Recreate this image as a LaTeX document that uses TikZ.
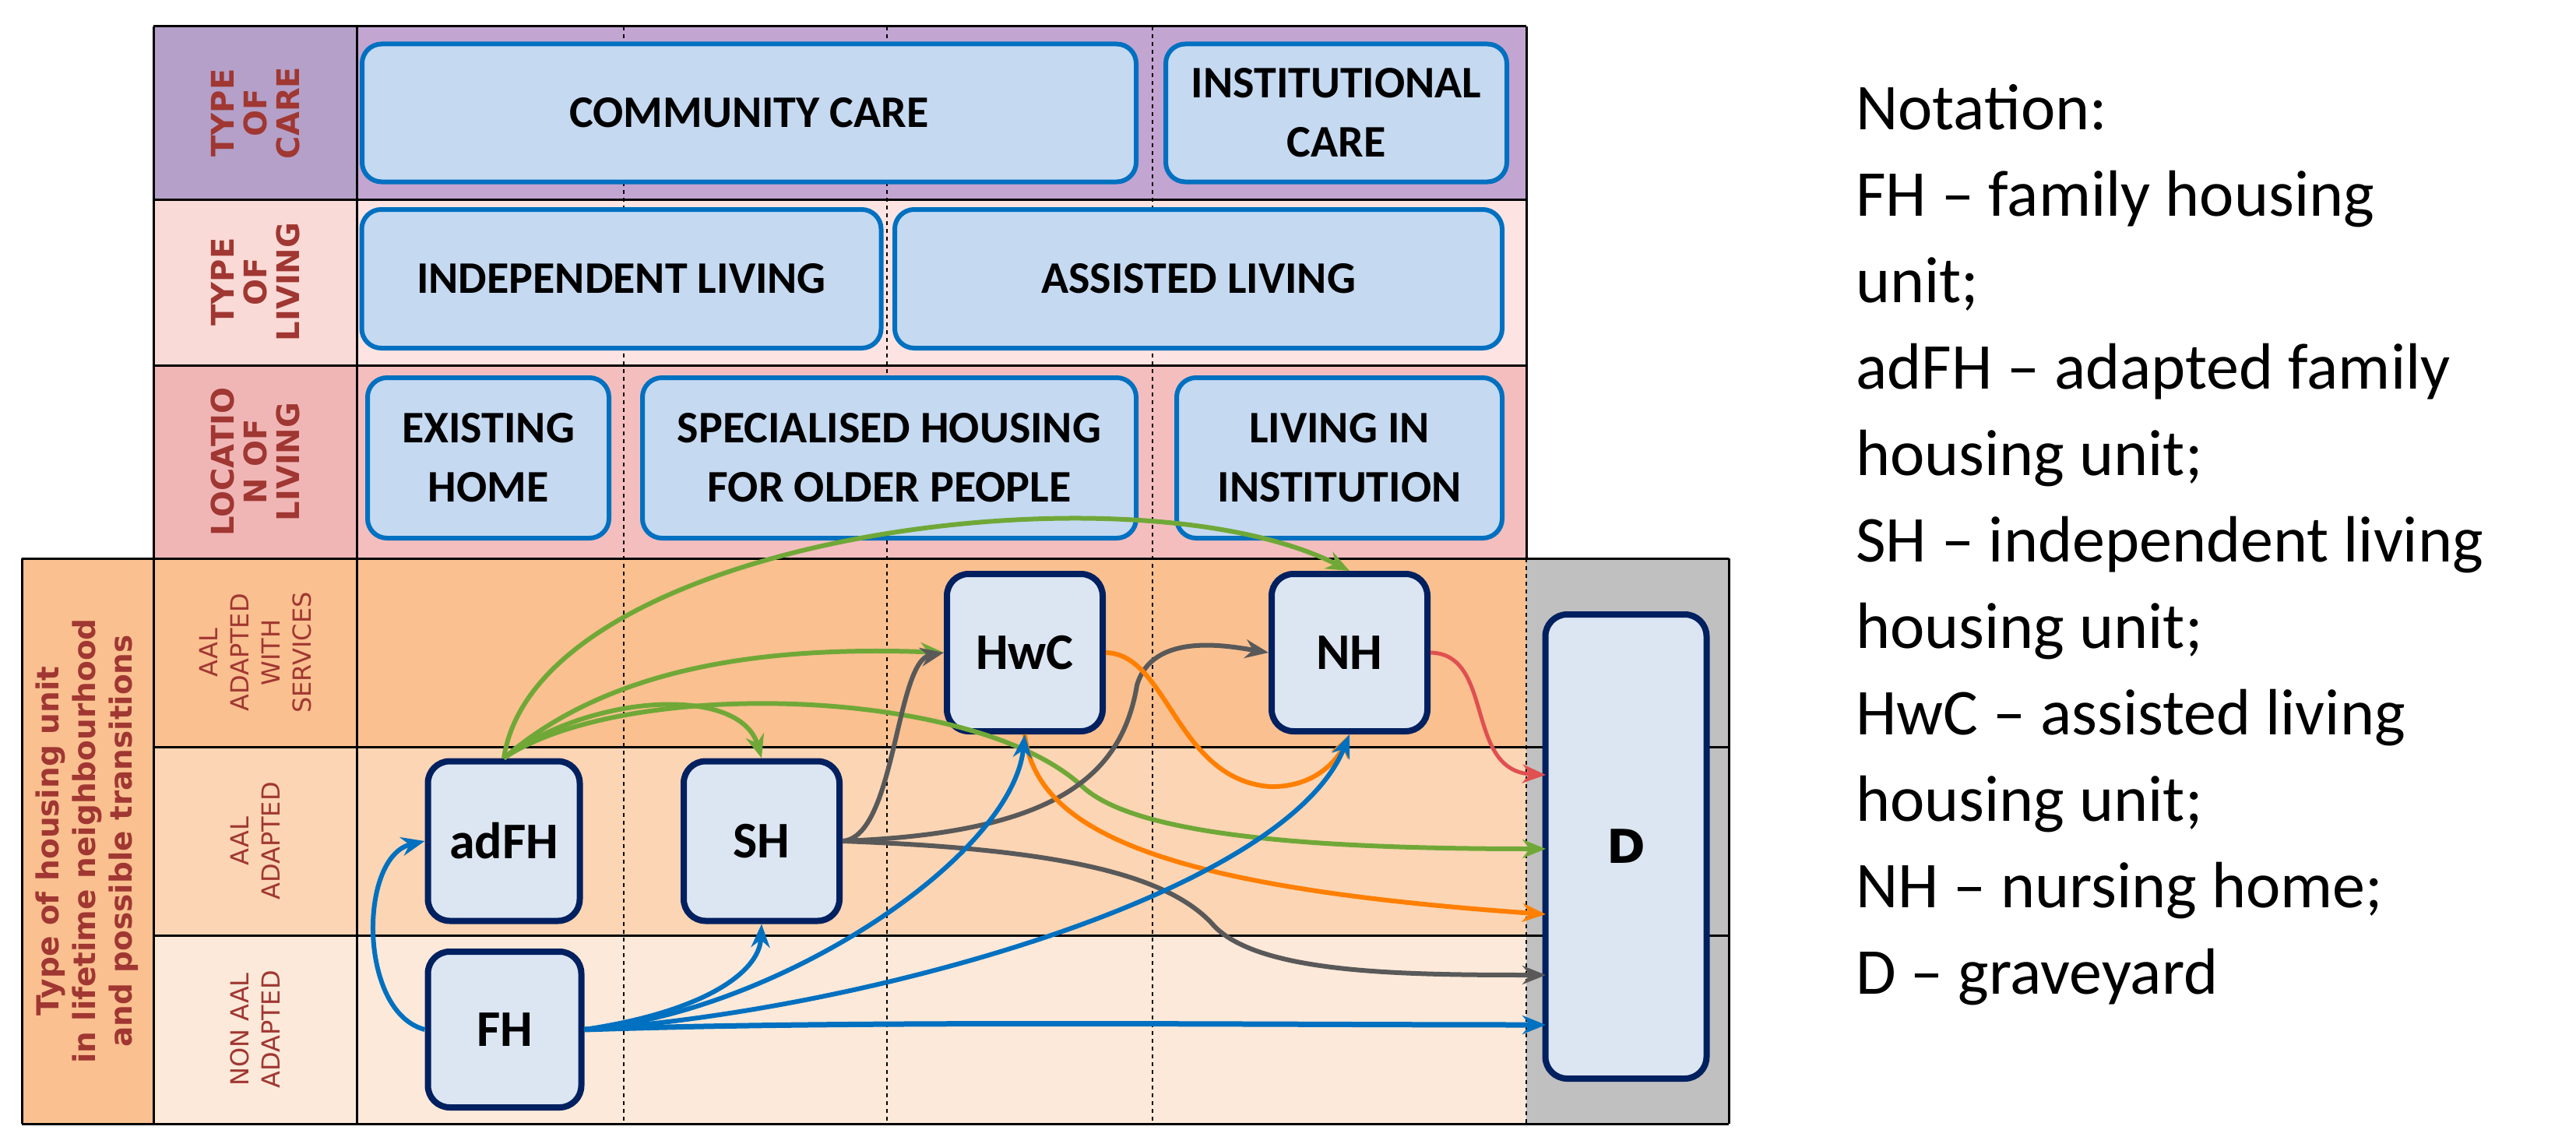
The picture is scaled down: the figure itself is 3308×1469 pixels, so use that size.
\documentclass[tikz,border=0pt]{standalone}
\usepackage{fontspec}
\setmainfont{Carlito}
\newfontfamily\lab{DejaVu Sans}
\usetikzlibrary{arrows.meta}
\definecolor{labred}{RGB}{160,55,50}
\definecolor{boxfill}{RGB}{197,217,241}
\definecolor{boxdraw}{RGB}{0,112,192}
\definecolor{ndfill}{RGB}{220,230,242}
\definecolor{nddraw}{RGB}{0,32,96}
\definecolor{cgreen}{RGB}{112,168,56}
\definecolor{cgray}{RGB}{89,89,89}
\definecolor{corange}{RGB}{255,127,0}
\definecolor{cblue}{RGB}{0,112,192}
\definecolor{cred}{RGB}{224,80,80}
\begin{document}
\begin{tikzpicture}[x=1pt,y=-1pt,
  topbox/.style={rounded corners=25, fill=boxfill, draw=boxdraw, line width=6, inner sep=0, align=center, font=\fontsize{58}{76}\selectfont\bfseries},
  nd/.style={rounded corners=28, fill=ndfill, draw=nddraw, line width=8, inner sep=0, font=\fontsize{66}{70}\selectfont\bfseries},
  rl/.style={rotate=90, align=center, text=labred, font=\lab\bfseries\fontsize{40}{42}\selectfont},
  rs/.style={rotate=90, align=center, text=labred, font=\lab\fontsize{32}{40}\selectfont},
  dl/.style={line width=2.5, dash pattern=on 5pt off 5pt},
  tr/.style={line width=6, -{Stealth[length=30pt,width=24pt]}},
]
\useasboundingbox (0,0) rectangle (3308,1469);
% top rows
\fill[color={rgb,255:red,195;green,165;blue,210}] (197,34) rectangle (1960,256);
\fill[color={rgb,255:red,180;green,160;blue,200}] (197,34) rectangle (458,256);
\fill[color={rgb,255:red,253;green,228;blue,226}] (197,256) rectangle (1960,469);
\fill[color={rgb,255:red,250;green,218;blue,214}] (197,256) rectangle (458,469);
\fill[color={rgb,255:red,244;green,190;blue,190}] (197,469) rectangle (1960,717);
\fill[color={rgb,255:red,240;green,182;blue,182}] (197,469) rectangle (458,717);
% bottom rows
\fill[color={rgb,255:red,250;green,192;blue,144}] (28,717) rectangle (1960,959);
\fill[color={rgb,255:red,252;green,213;blue,180}] (197,959) rectangle (1960,1201);
\fill[color={rgb,255:red,253;green,233;blue,217}] (197,1201) rectangle (1960,1443);
\fill[color={rgb,255:red,250;green,192;blue,144}] (28,717) rectangle (197,1443);
\fill[color={rgb,255:red,192;green,192;blue,192}] (1960,717) rectangle (2220,1443);
% grid
\draw[line width=3] (197,34) -- (1960,34);
\draw[line width=3] (197,256) -- (1960,256) (197,469) -- (1960,469);
\draw[line width=3] (28,717) -- (2220,717) (197,959) -- (2220,959) (197,1201) -- (2220,1201) (28,1443) -- (2220,1443);
\draw[line width=3] (28,717) -- (28,1443) (197,34) -- (197,1443) (458,34) -- (458,1443) (1960,34) -- (1960,717) (2220,717) -- (2220,1443);
\draw[dl] (801,34) -- (801,1443) (1139,34) -- (1139,1443) (1480,34) -- (1480,1443) (1960,717) -- (1960,1443);
% row labels
\node[rl] (lcare) at (328,145) {TYPE\\OF\\CARE};
\node[rl] (lliv) at (328,362) {TYPE\\OF\\LIVING};
\node[rl] (lloc) at (328,593) {LOCATIO\\N OF\\LIVING};
\node[rs] (lsv) at (328,838) {AAL\\ADAPTED\\WITH\\SERVICES};
\node[rs] (lad) at (328,1080) {AAL\\ADAPTED};
\node[rs] (lnon) at (328,1322) {NON AAL\\ADAPTED};
\node[rotate=90, align=center, text=labred, font=\lab\bfseries\fontsize{39}{47}\selectfont] (lmain) at (112,1080) {Type of housing unit\\in lifetime neighbourhood\\and possible transitions};
% top boxes
\node[topbox, minimum width=994, minimum height=177] (cc) at (962,145) {COMMUNITY CARE};
\node[topbox, minimum width=438, minimum height=177] (ic) at (1716,145) {INSTITUTIONAL\\CARE};
\node[topbox, minimum width=667, minimum height=178] (il) at (798,358) {INDEPENDENT LIVING};
\node[topbox, minimum width=780, minimum height=178] (al) at (1539,358) {ASSISTED LIVING};
\node[topbox, minimum width=310, minimum height=206] (eh) at (627,588) {EXISTING\\HOME};
\node[topbox, minimum width=634, minimum height=206] (sp) at (1142,588) {SPECIALISED HOUSING\\FOR OLDER PEOPLE};
\node[topbox, minimum width=418, minimum height=206] (li) at (1720,588) {LIVING IN\\INSTITUTION};
% nodes
\node[nd, minimum width=195, minimum height=205] (adFH) at (647,1080) {adFH};
\node[nd, minimum width=200, minimum height=205] (SH) at (978,1080) {SH};
\node[nd, minimum width=197, minimum height=200] (FH) at (648,1322) {FH};
\node[nd, minimum width=200, minimum height=202] (HwC) at (1316,838) {HwC};
\node[nd, minimum width=200, minimum height=202] (NH) at (1733,838) {NH};
\node[nd, minimum width=207, minimum height=596, font=\lab\fontsize{60}{60}\selectfont\bfseries] (D) at (2088,1087) {D};
\coordinate (dR) at (1985,995);
\coordinate (dG) at (1985,1090);
\coordinate (dO) at (1985,1174);
\coordinate (dK) at (1985,1252);
\coordinate (dB) at (1985,1316);
% green
\draw[tr, cgreen] (adFH.north) .. controls (690,690) and (1450,590) .. (NH.north);
\draw[tr, cgreen] (adFH.north) .. controls (790,850) and (1000,830) .. (HwC.west);
\draw[tr, cgreen] (adFH.north) .. controls (760,890) and (950,880) .. (SH.north);
\draw[tr, cgreen] (adFH.north) .. controls (800,870) and (1250,880) .. (1390,1010) .. controls (1460,1075) and (1700,1090) .. (dG);
% gray
\draw[tr, cgray] (SH.east) .. controls (1150,1075) and (1150,850) .. (HwC.west);
\draw[tr, cgray] (SH.east) .. controls (1350,1070) and (1440,1000) .. (1460,880) .. controls (1480,810) and (1580,830) .. (NH.west);
\draw[tr, cgray] (SH.east) .. controls (1350,1090) and (1500,1120) .. (1560,1190) .. controls (1620,1250) and (1800,1252) .. (dK);
% orange
\draw[tr, corange] (HwC.east) .. controls (1500,840) and (1510,1000) .. (1630,1010) .. controls (1700,1012) and (1725,960) .. (NH.south);
\draw[tr, corange] (HwC.south) .. controls (1330,1070) and (1500,1140) .. (dO);
% blue
\draw[tr, cblue] (FH.west) .. controls (460,1300) and (460,1100) .. (adFH.west);
\draw[tr, cblue] (FH.east) .. controls (900,1300) and (975,1250) .. (SH.south);
\draw[tr, cblue] (FH.east) .. controls (1000,1300) and (1300,1100) .. (HwC.south);
\draw[tr, cblue] (FH.east) .. controls (1100,1300) and (1650,1150) .. (NH.south);
\draw[tr, cblue, line width=7] (FH.east) .. controls (1100,1310) and (1600,1316) .. (dB);
% red
\draw[tr, cred, line width=5] (NH.east) .. controls (1920,840) and (1880,990) .. (dR);
% notation
\node[anchor=north west, align=left, inner sep=0, font=\fontsize{84}{111}\selectfont] (note) at (2383,108) {Notation:\\FH -- family housing\\unit;\\adFH -- adapted family\\housing unit;\\SH -- independent living\\housing unit;\\HwC -- assisted living\\housing unit;\\NH -- nursing home;\\D -- graveyard};
\end{tikzpicture}
\end{document}
